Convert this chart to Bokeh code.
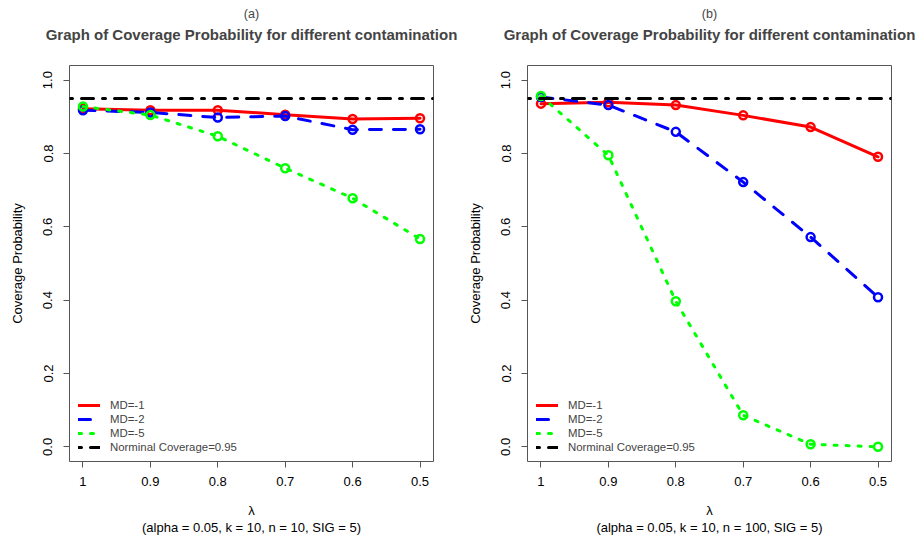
from bokeh.plotting import figure
from bokeh.layouts import row
from bokeh.models import Range1d, FixedTicker, Legend, LegendItem, Title
from bokeh.embed import file_html
from bokeh.resources import INLINE

# contamination proportion lambda (x axis, drawn decreasing)
lam = [1.0, 0.9, 0.8, 0.7, 0.6, 0.5]
x_tick_labels = ["1", "0.9", "0.8", "0.7", "0.6", "0.5"]
y_ticks = [0.0, 0.2, 0.4, 0.6, 0.8, 1.0]
y_tick_labels = ["0.0", "0.2", "0.4", "0.6", "0.8", "1.0"]
nominal = 0.95

# panel (a): n = 10
a_md1 = [0.922, 0.918, 0.918, 0.906, 0.894, 0.896]
a_md2 = [0.918, 0.912, 0.898, 0.902, 0.865, 0.866]
a_md5 = [0.928, 0.905, 0.847, 0.760, 0.678, 0.567]

# panel (b): n = 100
b_md1 = [0.936, 0.940, 0.932, 0.904, 0.872, 0.791]
b_md2 = [0.954, 0.932, 0.859, 0.722, 0.572, 0.408]
b_md5 = [0.957, 0.795, 0.397, 0.086, 0.007, 0.000]

labels = ["MD=-1", "MD=-2", "MD=-5", "Norminal Coverage=0.95"]
main_title = "Graph of Coverage Probability for different contamination"
FONT = "Liberation Sans"
FRAME = "#555555"


def panel(tag, subtitle, md1, md2, md5, width, left):
    x_range = Range1d(1.02, 0.48)
    p = figure(width=width, height=542, x_range=x_range, y_range=Range1d(-0.04, 1.04),
               output_backend="svg", toolbar_location=None,
               min_border_left=left, min_border_right=width - left - 364,
               min_border_top=65, min_border_bottom=81)
    p.grid.visible = False
    p.background_fill_color = "white"
    p.border_fill_color = "white"
    p.outline_line_color = FRAME
    p.outline_line_width = 1

    # titles, stacked outward from the frame: blank gap, main title, panel tag
    p.add_layout(Title(text=" ", text_font=FONT, text_font_size="1px", standoff=20), "above")
    p.add_layout(Title(text=main_title, text_font=FONT, text_font_size="15px",
                       text_font_style="bold", align="center", standoff=0), "above")
    p.title.text = tag
    p.title.text_font = FONT
    p.title.text_font_size = "12.5px"
    p.title.text_font_style = "normal"
    p.title.align = "center"
    p.title.standoff = 6

    # axes
    for ax in (p.xaxis, p.yaxis):
        ax.axis_line_color = None
        ax.major_tick_line_color = FRAME
        ax.major_tick_out = 6
        ax.major_tick_in = 0
        ax.minor_tick_line_color = None
        ax.major_label_text_font = FONT
        ax.major_label_text_font_size = "13px"
        ax.major_label_text_color = "black"
        ax.axis_label_text_font = FONT
        ax.axis_label_text_font_size = "13px"
        ax.axis_label_text_font_style = "normal"
        ax.axis_label_text_color = "black"
    p.xaxis.ticker = FixedTicker(ticks=lam)
    p.xaxis.major_label_overrides = dict(zip(lam, x_tick_labels))
    p.xaxis.major_label_standoff = 9
    p.xaxis.axis_label = "λ\n" + subtitle
    p.xaxis.axis_label_text_line_height = 1.15
    p.xaxis.axis_label_standoff = 14
    p.yaxis.ticker = FixedTicker(ticks=y_ticks)
    p.yaxis.major_label_overrides = dict(zip(y_ticks, y_tick_labels))
    p.yaxis.major_label_orientation = "vertical"
    p.yaxis.major_label_standoff = 11
    p.yaxis.axis_label = "Coverage Probability"
    p.yaxis.axis_label_standoff = 16

    # series
    r1 = p.line(lam, md1, line_color="red", line_width=3, line_cap="round")
    p.scatter(lam, md1, size=8, fill_color=None, line_color="red", line_width=2.5)
    r2 = p.line(lam, md2, line_color="blue", line_width=3, line_dash="12 12", line_cap="round")
    p.scatter(lam, md2, size=8, fill_color=None, line_color="blue", line_width=2.5)
    r3 = p.line(lam, md5, line_color="#00FF00", line_width=3, line_dash="3 9", line_cap="round")
    p.scatter(lam, md5, size=8, fill_color=None, line_color="#00FF00", line_width=2.5)
    r4 = p.line([x_range.start, x_range.end], [nominal, nominal], line_color="black",
                line_width=3, line_dash="3 9 12 9", line_cap="round")

    legend = Legend(items=[LegendItem(label=l, renderers=[r]) for l, r in zip(labels, [r1, r2, r3, r4])],
                    location=(9, 7), padding=0, margin=0, spacing=0,
                    label_height=14, glyph_height=14, glyph_width=22, label_standoff=10,
                    label_text_font=FONT, label_text_font_size="11.4px",
                    background_fill_alpha=0, border_line_alpha=0)
    p.add_layout(legend)
    return p


pa = panel("(a)", "(alpha = 0.05, k = 10, n = 10, SIG = 5)", a_md1, a_md2, a_md5, 458, 69)
pb = panel("(b)", "(alpha = 0.05, k = 10, n = 100, SIG = 5)", b_md1, b_md2, b_md5, 459, 69)

layout = row(pa, pb)
open("out.html", "w").write(file_html(layout, INLINE))
